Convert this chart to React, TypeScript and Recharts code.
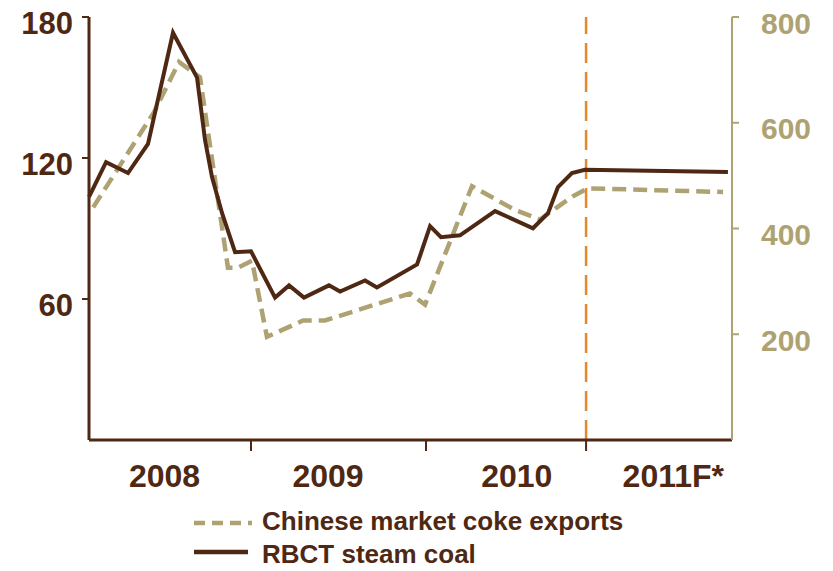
import { LineChart, Line, XAxis, YAxis, ReferenceLine, Legend } from 'recharts';

// x is in months from the start of 2008 (as drawn on the original chart)
const coalMonths = [0, 1.22, 2.79, 4.22, 6.01, 7.73, 8.3, 8.8, 9.52, 10.45, 11.59, 13.31, 14.31, 15.38, 17.17, 17.96, 19.75, 20.6, 23.47, 24.4, 25.18, 26.54, 29.05, 31.76, 32.84, 33.55, 34.55, 35.48, 45.71];
const coalPrices = [103.5, 118.2, 113.6, 126, 173.3, 154.2, 127.7, 111.9, 96.5, 79.9, 80.3, 60.6, 65.8, 60.6, 65.8, 63.2, 67.9, 64.9, 74.7, 91, 86.3, 87.1, 97.4, 90.1, 96.5, 107.6, 113.6, 115, 114];

const cokeMonths = [0.3, 4.65, 6.44, 7.94, 9.94, 10.66, 11.66, 12.73, 15.31, 16.88, 22.96, 24.04, 27.4, 30.48, 32.27, 33.48, 34.63, 35.7, 45.36];
const cokeExports = [440, 620, 715, 686, 326, 326, 339, 195, 226, 226, 277, 256, 480, 435, 417, 440, 461, 476, 469];

const leftTicks = [60, 120, 180];
const rightTicks = [200, 400, 600, 800];
const yearBreaks = [11.59, 24.11, 35.56];
const yearLabels = ['2008', '2009', '2010', '2011F*'];
const yearLabelPos = [5.4, 17.1, 30.6, 41.8];
const forecastStart = 35.56;

const BROWN = '#4F2813';
const TAN = '#AEA273';
const ORANGE = '#E8862C';
const FONT = '"Liberation Sans", Arial, Helvetica, sans-serif';

const coalData = coalMonths.map((m, i) => ({ m, coal: coalPrices[i] }));
const cokeData = cokeMonths.map((m, i) => ({ m, coke: cokeExports[i] }));

function YearTick(props: any) {
  const { x, y, payload } = props;
  const idx = yearLabelPos.indexOf(payload.value);
  if (idx >= 0) {
    return (
      <text x={x} y={y + 47} textAnchor="middle" fill={BROWN} fontSize={32} fontWeight="bold" fontFamily={FONT}>
        {yearLabels[idx]}
      </text>
    );
  }
  return <line x1={x} x2={x} y1={y} y2={y + 11} stroke={BROWN} strokeWidth={2} />;
}

function LeftTick(props: any) {
  const { x, y, payload } = props;
  return (
    <text x={x} y={y + 17} textAnchor="end" fill={BROWN} fontSize={31} fontWeight="bold" fontFamily={FONT}>
      {payload.value}
    </text>
  );
}

function RightTick(props: any) {
  const { x, y, payload } = props;
  return (
    <text x={x} y={y + 16.5} textAnchor="start" fill={TAN} fontSize={30} fontWeight="bold" fontFamily={FONT}>
      {payload.value}
    </text>
  );
}

function ChartLegend() {
  const txt = {
    position: 'absolute' as const,
    left: 254,
    fontFamily: FONT,
    fontSize: 26,
    fontWeight: 'bold' as const,
    color: BROWN,
    lineHeight: '30px',
    whiteSpace: 'nowrap' as const,
  };
  return (
    <div style={{ position: 'relative', width: 817, height: 78 }}>
      <svg width={817} height={78} style={{ position: 'absolute', left: 0, top: 0 }}>
        <line x1={186} x2={244} y1={30} y2={30} stroke={TAN} strokeWidth={4.5} strokeDasharray="11 7" />
        <line x1={186} x2={240} y1={59} y2={59} stroke={BROWN} strokeWidth={4.5} />
      </svg>
      <span style={{ ...txt, top: 13 }}>Chinese market coke exports</span>
      <span style={{ ...txt, top: 46 }}>RBCT steam coal</span>
    </div>
  );
}

export default function App() {
  return (
    <div style={{ position: 'relative', top: -10 }}>
      <LineChart width={817} height={573} margin={{ top: 19, right: 0, bottom: 0, left: 0 }}>
        <XAxis
          type="number"
          dataKey="m"
          domain={[0, 46]}
          ticks={[...yearBreaks, ...yearLabelPos]}
          interval={0}
          tickSize={0}
          tickMargin={0}
          tickLine={false}
          axisLine={{ stroke: BROWN, strokeWidth: 3 }}
          tick={YearTick}
          height={53}
        />
        <YAxis
          yAxisId="left"
          orientation="left"
          width={81}
          domain={[0, 180]}
          ticks={leftTicks}
          interval={0}
          tickSize={7}
          tickMargin={9}
          axisLine={{ stroke: BROWN, strokeWidth: 3 }}
          tickLine={{ stroke: BROWN, strokeWidth: 2 }}
          tick={LeftTick}
        />
        <YAxis
          yAxisId="right"
          orientation="right"
          width={93}
          domain={[0, 800]}
          ticks={rightTicks}
          interval={0}
          tickSize={7}
          tickMargin={22}
          axisLine={{ stroke: TAN, strokeWidth: 2 }}
          tickLine={{ stroke: TAN, strokeWidth: 2 }}
          tick={RightTick}
        />
        <ReferenceLine
          yAxisId="left"
          x={forecastStart}
          stroke={ORANGE}
          strokeWidth={2.5}
          strokeDasharray="20 9"
        />
        <Line
          yAxisId="right"
          data={cokeData}
          dataKey="coke"
          stroke={TAN}
          strokeWidth={4.5}
          strokeDasharray="14 7"
          dot={false}
          isAnimationActive={false}
        />
        <Line
          yAxisId="left"
          data={coalData}
          dataKey="coal"
          stroke={BROWN}
          strokeWidth={4}
          dot={false}
          isAnimationActive={false}
        />
        <Legend
          verticalAlign="bottom"
          align="left"
          height={78}
          wrapperStyle={{ left: 0, width: 817, height: 78 }}
          content={() => <ChartLegend />}
        />
      </LineChart>
    </div>
  );
}
